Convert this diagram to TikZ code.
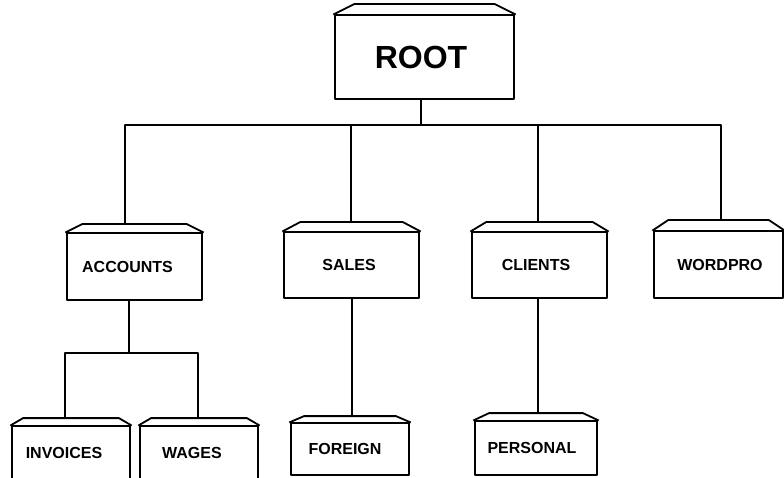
\documentclass[tikz,border=0pt]{standalone}
\usepackage{fontspec}
\setmainfont{Liberation Sans}
\usetikzlibrary{calc}
\begin{document}
\begin{tikzpicture}[x=1pt,y=-1pt,line join=round,line cap=rect,
  lw/.style={line width=1.8pt},
  box/.style 2 args={draw,lw,rectangle,inner sep=0pt,minimum width=#1pt,minimum height=#2pt,
    font=\bfseries\fontsize{16}{16}\selectfont},
  bigbox/.style 2 args={box={#1}{#2},font=\bfseries\fontsize{32}{32}\selectfont},
  wire/.style={lw}]
\useasboundingbox (0,0) rectangle (784,478);
\clip (0,0) rectangle (784,478);
% boxes (front faces)
\node[bigbox={179}{84}] (root) at (424.5,57) {ROOT\hspace*{7pt}};
\node[box={135}{67}] (acc) at (134.5,266.5) {ACCOUNTS\hspace*{14pt}};
\node[box={135}{66}] (sales) at (351.5,265) {SALES\hspace*{5pt}};
\node[box={135}{66}] (clients) at (539.5,265) {CLIENTS\hspace*{7pt}};
\node[box={129}{67}] (wordpro) at (718.5,264.5) {\hspace*{3pt}WORDPRO};
\node[box={118}{90}] (invoices) at (71,471) {\raisebox{36pt}{INVOICES\hspace*{14pt}}};
\node[box={118}{90}] (wages) at (199,471) {\raisebox{36pt}{WAGES\hspace*{14pt}}};
\node[box={118}{52}] (foreign) at (350,449) {FOREIGN\hspace*{10pt}};
\node[box={122}{54}] (personal) at (536,448) {PERSONAL\hspace*{8pt}};
% bevelled tops
\foreach \n/\i/\h in {root/20/10, acc/16/8, sales/17/9, clients/15/9, wordpro/15/10,
  invoices/12/7, wages/12/7, foreign/14/6, personal/15/7}
  \draw[lw] (\n.north west) -- ([xshift=\i pt,yshift=\h pt]\n.north west)
    -- ([xshift=-\i pt,yshift=\h pt]\n.north east) -- (\n.north east);
% connectors
\coordinate (bus) at (421,125);
\draw[wire] ([xshift=-3.5pt]root.south) -- (bus);
\draw[wire] (bus) -| ([xshift=-9.5pt,yshift=8pt]acc.north);
\draw[wire] (bus) -| ([xshift=-0.5pt,yshift=9pt]sales.north);
\draw[wire] (bus) -| ([xshift=-1.5pt,yshift=9pt]clients.north);
\draw[wire] (bus) -| ([xshift=2.5pt,yshift=10pt]wordpro.north);
\coordinate (subbus) at (129,353);
\draw[wire] ([xshift=-5.5pt]acc.south) -- (subbus);
\draw[wire] (subbus) -| ([xshift=-6pt,yshift=7pt]invoices.north);
\draw[wire] (subbus) -| ([xshift=-1pt,yshift=7pt]wages.north);
\draw[wire] ([xshift=0.5pt]sales.south) -- ([xshift=0.5pt,yshift=6pt]foreign.north -| sales.south);
\draw[wire] ([xshift=-1.5pt]clients.south) -- ([xshift=-1.5pt,yshift=7pt]clients.south |- personal.north);
\end{tikzpicture}
\end{document}
